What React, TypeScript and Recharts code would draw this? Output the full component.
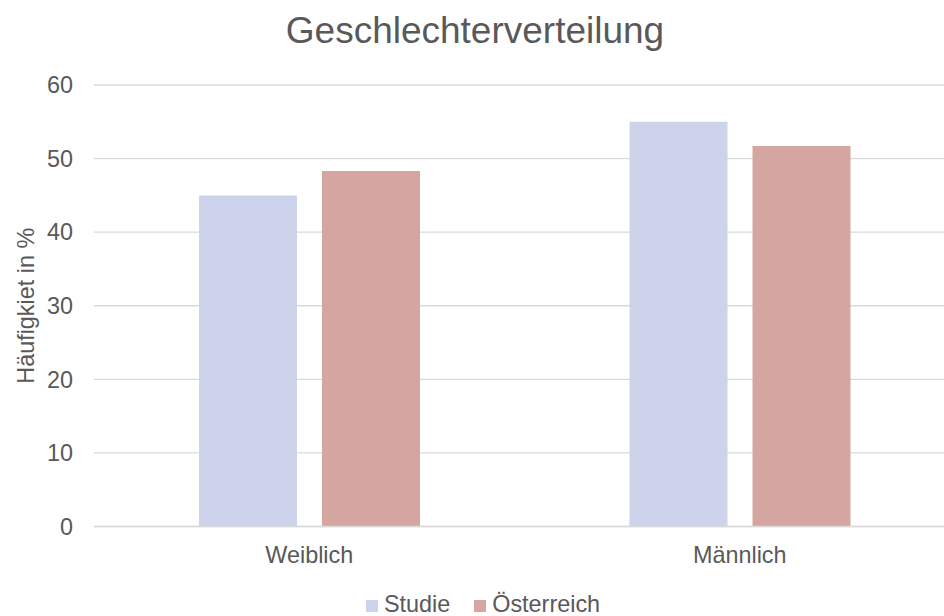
import { Bar, BarChart, CartesianGrid, XAxis, YAxis } from "recharts";

const CATEGORIES = ["Weiblich", "Männlich"];
const STUDIE = [45.0, 55.0];
const OESTERREICH = [48.3, 51.7];
const Y_TICKS = [0, 10, 20, 30, 40, 50, 60];

const SERIES = [
  { key: "studie", name: "Studie", color: "#CDD3EB" },
  { key: "oesterreich", name: "Österreich", color: "#D5A69F" },
];

const data = CATEGORIES.map((label, i) => ({
  label,
  studie: STUDIE[i],
  oesterreich: OESTERREICH[i],
}));

const FONT = "'Liberation Sans', Arial, sans-serif";
const TEXT = "#595959";
const GRID = "#D9D9D9";

const W = 966;
const H = 616;

function YLabel({ viewBox }: any) {
  const cx = 26;
  const cy = viewBox.y + viewBox.height / 2;
  return (
    <text
      x={cx}
      y={cy}
      transform={`rotate(-90 ${cx} ${cy})`}
      textAnchor="middle"
      dominantBaseline="central"
      fill={TEXT}
      fontSize={23.4}
      fontFamily={FONT}
    >
      Häufigkiet in %
    </text>
  );
}

export default function App() {
  return (
    <div
      style={{
        position: "absolute",
        left: 0,
        top: 0,
        width: W,
        height: H,
        background: "#fff",
        fontFamily: FONT,
        overflow: "hidden",
      }}
    >
      <div
        style={{
          position: "absolute",
          top: 11.6,
          left: -8,
          width: W,
          textAlign: "center",
          fontSize: 37,
          lineHeight: "37px",
          color: TEXT,
        }}
      >
        Geschlechterverteilung
      </div>
      <BarChart
        width={W}
        height={H}
        data={data}
        margin={{ top: 85, right: 11, left: 0, bottom: 49.5 }}
        barCategoryGap={105}
        barGap={25}
      >
        <CartesianGrid vertical={false} stroke={GRID} strokeWidth={1.3} />
        <XAxis
          dataKey="label"
          height={40}
          tickLine={false}
          tickSize={0}
          tickMargin={20}
          axisLine={{ stroke: GRID, strokeWidth: 1.3 }}
          tick={{ fill: TEXT, fontSize: 23.4, fontFamily: FONT }}
        />
        <YAxis
          width={94}
          domain={[0, 60]}
          ticks={Y_TICKS}
          axisLine={false}
          tickLine={false}
          tickSize={0}
          tickMargin={21}
          tick={{ fill: TEXT, fontSize: 23.4, fontFamily: FONT }}
          label={{ content: YLabel }}
        />
        {SERIES.map((s) => (
          <Bar
            key={s.key}
            dataKey={s.key}
            name={s.name}
            fill={s.color}
            isAnimationActive={false}
          />
        ))}
      </BarChart>
      <div
        style={{
          position: "absolute",
          top: 592,
          left: 0,
          width: W,
          display: "flex",
          justifyContent: "center",
          alignItems: "center",
          fontSize: 23.4,
          lineHeight: "24px",
          color: TEXT,
        }}
      >
        {SERIES.map((s, i) => (
          <div
            key={s.key}
            style={{
              display: "flex",
              alignItems: "center",
              marginLeft: i === 0 ? 0 : 24,
            }}
          >
            <span
              style={{
                display: "inline-block",
                width: 12,
                height: 12,
                background: s.color,
                marginRight: 6,
                marginTop: 3,
              }}
            />
            <span>{s.name}</span>
          </div>
        ))}
      </div>
    </div>
  );
}
